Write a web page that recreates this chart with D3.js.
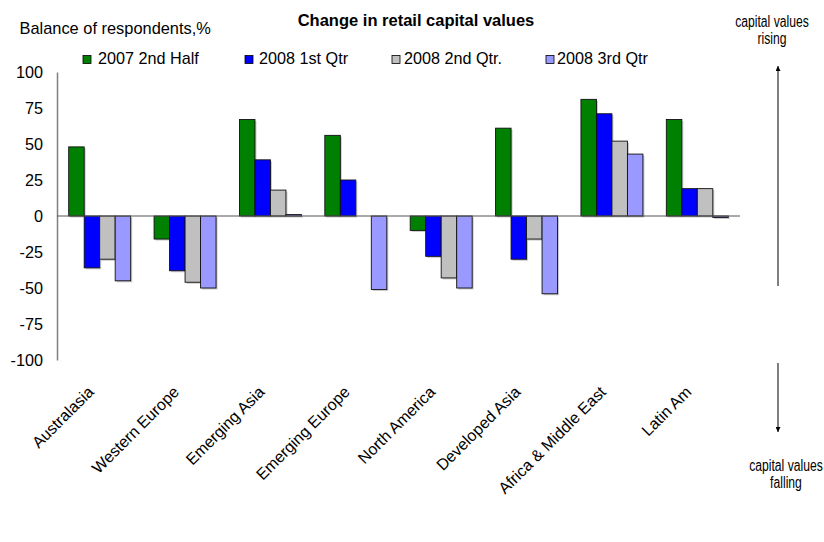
<!DOCTYPE html>
<html>
<head>
<meta charset="utf-8">
<script src="https://cdn.jsdelivr.net/npm/d3@7"></script>
<style>
  html, body { margin: 0; padding: 0; background: #fff; }
  svg { display: block; font-family: "Liberation Sans", Arial, sans-serif; }
</style>
</head>
<body>
<svg id="chart" width="824" height="542"></svg>
<script>
// Regions surveyed
const regions = ["Australasia", "Western Europe", "Emerging Asia", "Emerging Europe",
                 "North America", "Developed Asia", "Africa & Middle East", "Latin Am"];

// Survey periods (legend order)
const periods = ["2007 2nd Half", "2008 1st Qtr", "2008 2nd Qtr.", "2008 3rd Qtr"];
const periodColors = ["#008000", "#0000FF", "#C0C0C0", "#9999FF"];

// Balance of respondents (%) per region, one array per period
const half2007 = [48, -16, 67, 56, -10, 61, 81, 67];
const qtr1_2008 = [-36, -38, 39, 25, -28, -30, 71, 19];
const qtr2_2008 = [-30, -46, 18, 0, -43, -16, 52, 19];
const qtr3_2008 = [-45, -50, 1, -51, -50, -54, 43, -1];

const yTicks = [100, 75, 50, 25, 0, -25, -50, -75, -100];

const seriesValues = [half2007, qtr1_2008, qtr2_2008, qtr3_2008];

const svg = d3.select("#chart");

const plotLeft = 57, plotRight = 740, plotTop = 72, plotBottom = 360;

const x = d3.scaleBand()
  .domain(regions)
  .range([plotLeft, plotRight])
  .paddingInner(0.274)
  .paddingOuter(0.137);

const xInner = d3.scaleBand()
  .domain(periods)
  .range([0, x.bandwidth()])
  .padding(0);

const y = d3.scaleLinear()
  .domain([-100, 100])
  .range([plotBottom, plotTop]);

// Title and axis caption
svg.append("text")
  .attr("x", 416).attr("y", 25.5)
  .attr("text-anchor", "middle")
  .attr("font-size", 16.5).attr("font-weight", "bold")
  .text("Change in retail capital values");

svg.append("text")
  .attr("x", 19.5).attr("y", 34)
  .attr("font-size", 16.4)
  .text("Balance of respondents,%");

// Legend
const legendSquareX = [83, 245, 392, 546];
const legendTextX = [98, 259, 404, 557];
const legend = svg.append("g");
periods.forEach((p, i) => {
  legend.append("rect")
    .attr("x", legendSquareX[i]).attr("y", 55.5)
    .attr("width", 8).attr("height", 8)
    .attr("fill", periodColors[i])
    .attr("stroke", "#000").attr("stroke-width", 0.8);
  legend.append("text")
    .attr("x", legendTextX[i]).attr("y", 64)
    .attr("font-size", 16.2)
    .text(p);
});

// Y axis (labels only, grey spine); plain hyphen for negatives
const yAxis = d3.axisLeft(y)
  .tickValues(yTicks)
  .tickFormat(d => String(d))
  .tickSize(0)
  .tickPadding(14);
const yAxisG = svg.append("g")
  .attr("transform", `translate(${plotLeft},0)`)
  .call(yAxis);
yAxisG.select(".domain").attr("stroke", "#808080").attr("stroke-width", 1.5);
yAxisG.selectAll("text")
  .attr("font-size", 16.2)
  .attr("font-family", "Liberation Sans, Arial, sans-serif")
  .attr("fill", "#000");

// Bars
const groups = svg.append("g").selectAll("g")
  .data(regions)
  .join("g")
  .attr("transform", d => `translate(${x(d)},0)`);

const barData = (ri) => periods.map((p, pi) => ({ period: p, pi, value: seriesValues[pi][ri] }));

groups.each(function(region, ri) {
  const g = d3.select(this);
  const data = barData(ri).filter(d => d.value !== 0);
  // soft shadow
  g.selectAll("rect.shadow")
    .data(data)
    .join("rect")
    .attr("class", "shadow")
    .attr("x", d => xInner(d.period) + 1.5)
    .attr("y", d => Math.min(y(d.value), y(0)) + 1.5)
    .attr("width", xInner.bandwidth())
    .attr("height", d => Math.abs(y(d.value) - y(0)))
    .attr("fill", "#9a9a9a")
    .attr("opacity", 0.55);
  g.selectAll("rect.bar")
    .data(data)
    .join("rect")
    .attr("class", "bar")
    .attr("x", d => xInner(d.period))
    .attr("y", d => Math.min(y(d.value), y(0)))
    .attr("width", xInner.bandwidth())
    .attr("height", d => Math.abs(y(d.value) - y(0)))
    .attr("fill", d => periodColors[d.pi])
    .attr("stroke", "#111")
    .attr("stroke-width", 0.9);
});

// Zero line
svg.append("line")
  .attr("x1", plotLeft).attr("x2", plotRight)
  .attr("y1", y(0)).attr("y2", y(0))
  .attr("stroke", "#555").attr("stroke-width", 1);

// Category labels, rotated
svg.append("g").selectAll("text")
  .data(regions)
  .join("text")
  .attr("transform", d => `translate(${x(d) + x.bandwidth() / 2 - 5},${393}) rotate(-45)`)
  .attr("text-anchor", "end")
  .attr("font-size", 16)
  .text(d => d);

// Direction arrows on the right
const defs = svg.append("defs");
defs.append("marker")
  .attr("id", "arrowHead")
  .attr("viewBox", "0 0 10 10")
  .attr("refX", 10).attr("refY", 5)
  .attr("markerWidth", 5).attr("markerHeight", 5)
  .attr("orient", "auto")
  .append("path").attr("d", "M0,0 L10,5 L0,10 z").attr("fill", "#000");

svg.append("line")
  .attr("x1", 778).attr("x2", 778)
  .attr("y1", 286).attr("y2", 66)
  .attr("stroke", "#000").attr("stroke-width", 1)
  .attr("marker-end", "url(#arrowHead)");

svg.append("line")
  .attr("x1", 778).attr("x2", 778)
  .attr("y1", 363).attr("y2", 432)
  .attr("stroke", "#000").attr("stroke-width", 1)
  .attr("marker-end", "url(#arrowHead)");

const sideNote = (cx, lines, y0) => {
  lines.forEach((t, i) => {
    svg.append("text")
      .attr("transform", `translate(${cx},${y0 + i * 17}) scale(0.76,1)`)
      .attr("text-anchor", "middle")
      .attr("font-size", 16)
      .text(t);
  });
};
sideNote(772, ["capital values", "rising"], 27);
sideNote(786, ["capital values", "falling"], 471);
</script>
</body>
</html>
